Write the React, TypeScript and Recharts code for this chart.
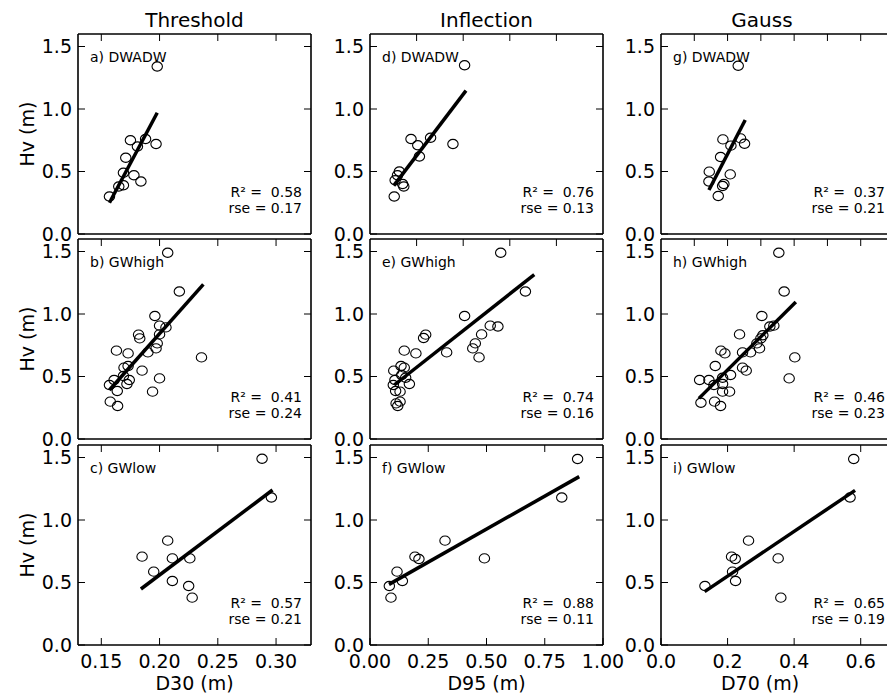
import { Scatter, ScatterChart, XAxis, YAxis } from "recharts";

const hvTicks = [0, 0.5, 1.0, 1.5];

// column tick sets (bottom labels + top inner ticks)
const d30Ticks = [0.15, 0.2, 0.25, 0.3];
const d95Ticks = [0, 0.25, 0.5, 0.75, 1.0];
const d95TopTicks = [0.2, 0.4, 0.6, 0.8];
const d70Ticks = [0, 0.2, 0.4, 0.6];
const d70TopTicks = [0.1, 0.2, 0.3, 0.4, 0.5, 0.6];

const columnTitles = ["Threshold", "Inflection", "Gauss"];
const xLabels = ["D30 (m)", "D95 (m)", "D70 (m)"];

// a) Threshold, DWADW
const aX = [0.198, 0.175, 0.188, 0.181, 0.197, 0.171, 0.169, 0.178, 0.184, 0.169, 0.165, 0.157];
const aY = [1.34, 0.75, 0.76, 0.7, 0.72, 0.61, 0.49, 0.47, 0.42, 0.39, 0.38, 0.3];
const aFitX = [0.157, 0.198];
const aFitY = [0.25, 0.97];

// b) Threshold, GWhigh
const bX = [0.207, 0.217, 0.196, 0.2, 0.2055, 0.182, 0.183, 0.2, 0.198, 0.197, 0.19, 0.163, 0.173, 0.236, 0.1695, 0.173, 0.185, 0.161, 0.169, 0.174, 0.172, 0.2, 0.157, 0.1637, 0.194, 0.1577, 0.164];
const bY = [1.49, 1.18, 0.984, 0.907, 0.893, 0.835, 0.805, 0.837, 0.765, 0.725, 0.693, 0.707, 0.685, 0.653, 0.571, 0.584, 0.547, 0.472, 0.504, 0.472, 0.44, 0.485, 0.432, 0.384, 0.379, 0.299, 0.264];
const bFitX = [0.157, 0.2376];
const bFitY = [0.392, 1.237];

// c) Threshold, GWlow
const cX = [0.288, 0.296, 0.207, 0.185, 0.211, 0.226, 0.195, 0.211, 0.225, 0.228];
const cY = [1.49, 1.18, 0.835, 0.707, 0.693, 0.693, 0.587, 0.512, 0.472, 0.379];
const cFitX = [0.184, 0.297];
const cFitY = [0.448, 1.24];

// d) Inflection, DWADW
const dX = [0.406, 0.176, 0.26, 0.205, 0.356, 0.212, 0.126, 0.118, 0.108, 0.14, 0.145, 0.104];
const dY = [1.35, 0.76, 0.77, 0.71, 0.72, 0.62, 0.5, 0.47, 0.43, 0.4, 0.38, 0.3];
const dFitX = [0.102, 0.412];
const dFitY = [0.387, 1.147];

// e) Inflection, GWhigh
const eX = [0.561, 0.667, 0.406, 0.516, 0.549, 0.239, 0.23, 0.479, 0.452, 0.441, 0.468, 0.329, 0.147, 0.197, 0.133, 0.147, 0.102, 0.136, 0.153, 0.107, 0.169, 0.1, 0.129, 0.11, 0.129, 0.112, 0.119];
const eY = [1.49, 1.18, 0.984, 0.907, 0.9, 0.835, 0.808, 0.837, 0.765, 0.725, 0.653, 0.693, 0.707, 0.685, 0.584, 0.571, 0.547, 0.512, 0.49, 0.472, 0.44, 0.432, 0.379, 0.384, 0.299, 0.285, 0.264];
const eFitX = [0.104, 0.705];
const eFitY = [0.432, 1.315];

// f) Inflection, GWlow
const fX = [0.891, 0.823, 0.322, 0.193, 0.21, 0.491, 0.116, 0.139, 0.083, 0.09];
const fY = [1.488, 1.18, 0.835, 0.707, 0.688, 0.693, 0.587, 0.512, 0.472, 0.379];
const fFitX = [0.0815, 0.898];
const fFitY = [0.485, 1.347];

// g) Gauss, DWADW
const gX = [0.232, 0.186, 0.239, 0.21, 0.251, 0.179, 0.145, 0.144, 0.208, 0.189, 0.185, 0.172];
const gY = [1.346, 0.757, 0.765, 0.707, 0.722, 0.616, 0.499, 0.42, 0.477, 0.4, 0.384, 0.304];
const gFitX = [0.144, 0.253];
const gFitY = [0.352, 0.912];

// h) Gauss, GWhigh
const hX = [0.354, 0.37, 0.303, 0.339, 0.327, 0.236, 0.306, 0.3, 0.288, 0.296, 0.245, 0.269, 0.18, 0.192, 0.402, 0.163, 0.245, 0.256, 0.209, 0.116, 0.144, 0.185, 0.385, 0.159, 0.185, 0.185, 0.206, 0.12, 0.161, 0.179];
const hY = [1.49, 1.18, 0.984, 0.907, 0.9, 0.837, 0.83, 0.805, 0.765, 0.725, 0.693, 0.693, 0.707, 0.685, 0.653, 0.584, 0.571, 0.547, 0.512, 0.472, 0.472, 0.49, 0.485, 0.432, 0.44, 0.379, 0.379, 0.29, 0.299, 0.264];
const hFitX = [0.114, 0.405];
const hFitY = [0.325, 1.096];

// i) Gauss, GWlow
const iX = [0.579, 0.568, 0.263, 0.212, 0.223, 0.352, 0.215, 0.224, 0.132, 0.36];
const iY = [1.488, 1.18, 0.835, 0.707, 0.688, 0.693, 0.587, 0.512, 0.472, 0.379];
const iFitX = [0.131, 0.583];
const iFitY = [0.427, 1.237];

const panelLabels = ["a) DWADW", "b) GWhigh", "c) GWlow", "d) DWADW", "e) GWhigh", "f) GWlow", "g) DWADW", "h) GWhigh", "i) GWlow"];
const r2Values = ["0.58", "0.41", "0.57", "0.76", "0.74", "0.88", "0.37", "0.46", "0.65"];
const rseValues = ["0.17", "0.24", "0.21", "0.13", "0.16", "0.11", "0.21", "0.23", "0.19"];

const colLeft = [78, 370, 661];
const rowTop = [34, 239, 445];
const PW = 233;
const PH = 200;
const AX_L = 45;
const AX_R = 30;
const AX_T = 6;
const AX_B = 40;

const zip = (xs: number[], ys: number[]) => xs.map((x, i) => ({ x, y: ys[i] }));

type PanelDef = {
  col: number;
  row: number;
  pts: { x: number; y: number }[];
  fit: { x: number; y: number }[];
  domain: [number, number];
  bottomTicks: number[];
  topTicks: number[];
  decimals: number;
};

const panels: PanelDef[] = [
  { col: 0, row: 0, pts: zip(aX, aY), fit: zip(aFitX, aFitY), domain: [0.13, 0.33], bottomTicks: [], topTicks: d30Ticks, decimals: 2 },
  { col: 0, row: 1, pts: zip(bX, bY), fit: zip(bFitX, bFitY), domain: [0.13, 0.33], bottomTicks: [], topTicks: d30Ticks, decimals: 2 },
  { col: 0, row: 2, pts: zip(cX, cY), fit: zip(cFitX, cFitY), domain: [0.13, 0.33], bottomTicks: d30Ticks, topTicks: d30Ticks, decimals: 2 },
  { col: 1, row: 0, pts: zip(dX, dY), fit: zip(dFitX, dFitY), domain: [0, 1.0], bottomTicks: [], topTicks: d95TopTicks, decimals: 2 },
  { col: 1, row: 1, pts: zip(eX, eY), fit: zip(eFitX, eFitY), domain: [0, 1.0], bottomTicks: [], topTicks: d95TopTicks, decimals: 2 },
  { col: 1, row: 2, pts: zip(fX, fY), fit: zip(fFitX, fFitY), domain: [0, 1.0], bottomTicks: d95Ticks, topTicks: [0.25, 0.5, 0.75], decimals: 2 },
  { col: 2, row: 0, pts: zip(gX, gY), fit: zip(gFitX, gFitY), domain: [0, 0.7], bottomTicks: [], topTicks: d70TopTicks, decimals: 1 },
  { col: 2, row: 1, pts: zip(hX, hY), fit: zip(hFitX, hFitY), domain: [0, 0.7], bottomTicks: [], topTicks: d70TopTicks, decimals: 1 },
  { col: 2, row: 2, pts: zip(iX, iY), fit: zip(iFitX, iFitY), domain: [0, 0.7], bottomTicks: d70Ticks, topTicks: [0.2, 0.4, 0.6], decimals: 1 },
];

const TICK = 7;
const FONT = 19;

function OpenCircle(props: any) {
  const { cx, cy } = props;
  return <ellipse cx={cx} cy={cy} rx={5.2} ry={4.6} fill="none" stroke="#000" strokeWidth={1.1} />;
}

function Panel({ p }: { p: PanelDef }) {
  const left = colLeft[p.col] - AX_L;
  const top = rowTop[p.row] - AX_T;
  const bottomTick = (t: any) => (
    <g>
      <line x1={t.x} y1={t.y} x2={t.x} y2={t.y - TICK} stroke="#000" />
      <text x={t.x} y={t.y + 23} textAnchor="middle" fontSize={FONT} fill="#000">
        {Number(t.payload.value).toFixed(p.decimals)}
      </text>
    </g>
  );
  const topTick = (t: any) => <line x1={t.x} y1={t.y} x2={t.x} y2={t.y + TICK} stroke="#000" />;
  const leftTick = (t: any) => (
    <g>
      <line x1={t.x} y1={t.y} x2={t.x + TICK} y2={t.y} stroke="#000" />
      <text x={t.x - 6} y={t.y} dy="0.36em" textAnchor="end" fontSize={FONT} fill="#000">
        {Number(t.payload.value).toFixed(1)}
      </text>
    </g>
  );
  const rightTick = (t: any) => <line x1={t.x} y1={t.y} x2={t.x - TICK} y2={t.y} stroke="#000" />;
  const frame = { stroke: "#000", strokeWidth: 1.6 };
  return (
    <div style={{ position: "absolute", left, top }}>
      <ScatterChart width={AX_L + PW + AX_R} height={AX_T + PH + AX_B} margin={{ top: 0, right: 0, bottom: 0, left: 0 }}>
        <XAxis
          xAxisId="b"
          type="number"
          dataKey="x"
          orientation="bottom"
          domain={p.domain}
          allowDataOverflow
          ticks={p.bottomTicks}
          interval={0}
          height={AX_B}
          tickSize={0}
          tickMargin={0}
          tickLine={false}
          axisLine={frame}
          tick={bottomTick}
        />
        <XAxis
          xAxisId="t"
          type="number"
          dataKey="x"
          orientation="top"
          domain={p.domain}
          allowDataOverflow
          ticks={p.topTicks}
          interval={0}
          height={AX_T}
          tickSize={0}
          tickMargin={0}
          tickLine={false}
          axisLine={frame}
          tick={topTick}
        />
        <YAxis
          yAxisId="l"
          type="number"
          dataKey="y"
          orientation="left"
          domain={[0, 1.6]}
          allowDataOverflow
          ticks={hvTicks}
          interval={0}
          width={AX_L}
          tickSize={0}
          tickMargin={0}
          tickLine={false}
          axisLine={frame}
          tick={leftTick}
        />
        <YAxis
          yAxisId="r"
          type="number"
          dataKey="y"
          orientation="right"
          domain={[0, 1.6]}
          allowDataOverflow
          ticks={hvTicks}
          interval={0}
          width={AX_R}
          tickSize={0}
          tickMargin={0}
          tickLine={false}
          axisLine={frame}
          tick={rightTick}
        />
        <Scatter xAxisId="b" yAxisId="l" data={p.pts} shape={OpenCircle} isAnimationActive={false} />
        <Scatter
          xAxisId="t"
          yAxisId="r"
          data={p.fit}
          line={{ stroke: "#000", strokeWidth: 3.5 }}
          shape={() => <g />}
          isAnimationActive={false}
        />
      </ScatterChart>
    </div>
  );
}

export default function App() {
  return (
    <div
      style={{
        position: "fixed",
        left: 0,
        top: 0,
        width: 887,
        height: 696,
        overflow: "hidden",
        background: "#fff",
        fontFamily: "'DejaVu Sans', Verdana, sans-serif",
      }}
    >
      {panels.map((p, i) => (
        <Panel key={i} p={p} />
      ))}
      <svg width={887} height={696} style={{ position: "absolute", left: 0, top: 0, pointerEvents: "none" }}>
        {columnTitles.map((t, i) => (
          <text key={t} x={[194.5, 486.5, 762][i]} y={27} textAnchor="middle" fontSize={20} fill="#000">
            {t}
          </text>
        ))}
        {xLabels.map((t, i) => (
          <text key={t} x={[194.5, 486.5, 760][i]} y={690} textAnchor="middle" fontSize={FONT} fill="#000">
            {t}
          </text>
        ))}
        {rowTop.map((t) => (
          <text key={t} transform={`translate(34, ${t + PH / 2}) rotate(-90)`} textAnchor="middle" fontSize={FONT} fill="#000">
            Hv (m)
          </text>
        ))}
        {panels.map((p, i) => {
          const x0 = colLeft[p.col];
          const y0 = rowTop[p.row];
          const xr = Math.min(x0 + PW - 9, 885);
          return (
            <g key={i} fontSize={14} fill="#000">
              <text x={x0 + 12} y={y0 + 27.5}>
                {panelLabels[i]}
              </text>
              <text x={xr} y={y0 + 163} textAnchor="end" style={{ whiteSpace: "pre" }}>
                {`R² =  ${r2Values[i]}`}
              </text>
              <text x={xr} y={y0 + 179} textAnchor="end" style={{ whiteSpace: "pre" }}>
                {`rse = ${rseValues[i]}`}
              </text>
            </g>
          );
        })}
      </svg>
    </div>
  );
}
